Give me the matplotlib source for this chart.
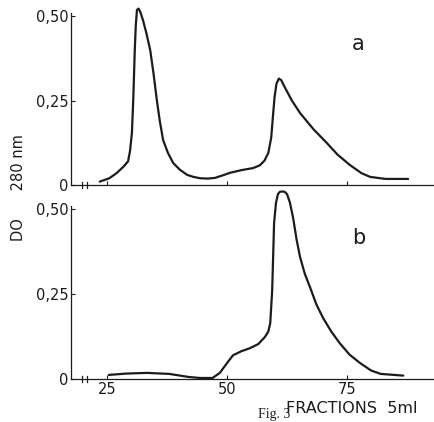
import numpy as np
from matplotlib import pyplot as plt

# chromatography profiles (fraction number, DO at 280 nm)
frac_a = [23.5, 25.5, 27, 28.5, 29.4, 29.8, 30.2, 30.5, 30.8, 31.0, 31.25, 31.6, 32.0, 32.5,
          33.2, 34, 34.7, 35.4, 36.0, 36.7, 37.7, 38.8, 40.2, 41.7, 43, 44.4, 46,
          47.5, 49, 50.6, 53, 55.4, 56.8, 57.8, 58.6, 59.2, 59.6, 59.9, 60.3, 60.8, 61.3, 62,
          63.5, 65.2, 68, 70.8, 73, 75.6, 78, 79.8, 83, 87.7]
do_a = [0.01, 0.02, 0.035, 0.055, 0.07, 0.1, 0.154, 0.26, 0.40, 0.47, 0.518, 0.522, 0.51, 0.488,
        0.45, 0.40, 0.33, 0.25, 0.19, 0.133, 0.095, 0.065, 0.045, 0.03, 0.024, 0.02, 0.019,
        0.021, 0.028, 0.036, 0.044, 0.05, 0.058, 0.072, 0.095, 0.14, 0.21, 0.26, 0.30, 0.315, 0.31, 0.29,
        0.25, 0.213, 0.165, 0.124, 0.09, 0.059, 0.035, 0.024, 0.018, 0.018]

frac_b = [25.4, 29, 33.3, 38, 42, 44.4, 47, 48.5, 50, 51.25, 53, 54.8, 56.5, 57.9, 58.6, 59.0,
          59.4, 59.8, 60.2, 60.6, 61.0, 61.5, 62.0, 62.5, 63.1, 63.75, 64.5, 65.2, 66.2, 67.3,
          68.6, 70, 71.7, 73.5, 75.5, 77.7, 80, 82, 86.7]
do_b = [0.012, 0.016, 0.018, 0.015, 0.006, 0.003, 0.003, 0.018, 0.047, 0.07, 0.082, 0.091, 0.103, 0.124,
        0.14, 0.165, 0.26, 0.46, 0.52, 0.545, 0.552, 0.553, 0.552, 0.545, 0.52, 0.476, 0.41, 0.36, 0.31, 0.27,
        0.22, 0.18, 0.14, 0.105, 0.072, 0.047, 0.025, 0.015, 0.01]

yticks = [0, 0.25, 0.50]
ytick_labels = ['0', '0,25', '0,50']
xticks = [25, 50, 75]

ink = '#1c1c1c'
plt.rc('font', family='DejaVu Sans', size=10)

fig = plt.figure(figsize=(4.35, 4.22), dpi=100)
ax1 = fig.add_axes([0.163, 0.5616, 0.837, 0.4325])
ax2 = fig.add_axes([0.163, 0.1019, 0.837, 0.450])

for ax, fx, fy, ytop in [(ax1, frac_a, do_a, 0.54), (ax2, frac_b, do_b, 0.56)]:
    ax.plot(fx, fy, color=ink, lw=1.6, solid_capstyle='round', solid_joinstyle='round', clip_on=False)
    ax.set_xlim(17.5, 93.3)
    ax.set_ylim(0, ytop)
    ax.spines['top'].set_visible(False)
    ax.spines['right'].set_visible(False)
    ax.spines['left'].set_bounds(0, 0.51)
    for s in ['left', 'bottom']:
        ax.spines[s].set_color(ink)
        ax.spines[s].set_linewidth(0.9)
    ax.set_yticks(yticks)
    ax.set_yticklabels(ytick_labels)
    ax.set_xticks(xticks)
    ax.tick_params(direction='in', length=3, width=0.8, color=ink, labelcolor=ink,
                   labelsize=10.5, pad=2)
    # axis break marks
    for xb in [0.03, 0.045]:
        ax.plot([xb, xb], [-0.014, 0.014], transform=ax.transAxes, color=ink, lw=0.9, clip_on=False)
    ax.patch.set_alpha(0)

ax1.text(0.79, 0.775, 'a', transform=ax1.transAxes, fontsize=15, color=ink, ha='center', va='center')
ax2.text(0.79, 0.742, 'b', transform=ax2.transAxes, fontsize=15, color=ink, ha='center', va='center')

ax1.set_xticklabels([])
ax2.set_xticklabels([str(v) for v in xticks])

fig.text(0.042, 0.555, 'DO      280 nm', rotation=90, ha='center', va='center',
         fontsize=10.5, color=ink)
fig.text(0.808, 0.033, 'FRACTIONS  5ml', ha='center', va='center', fontsize=11.5, color=ink)
fig.text(0.63, 0.002, 'Fig. 3', ha='center', va='bottom', fontsize=10, color=ink,
         family='Liberation Serif')

fig.savefig('out.png', dpi=100)
